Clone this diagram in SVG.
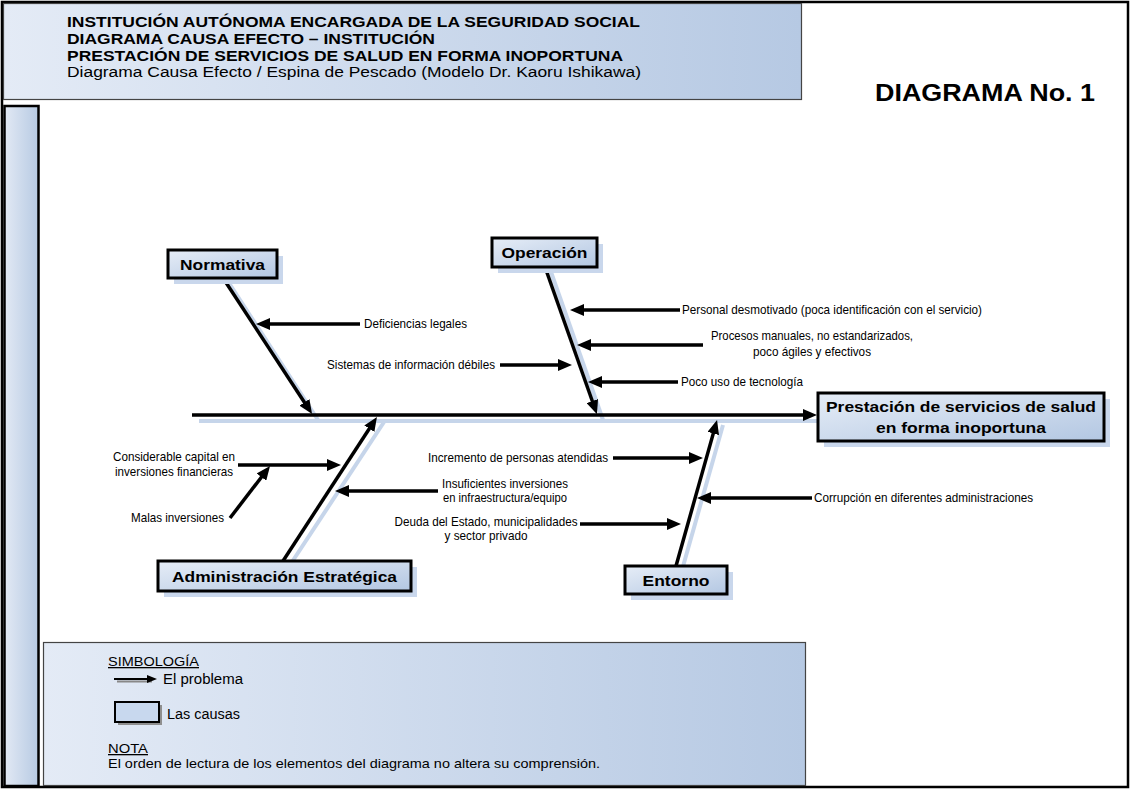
<svg xmlns="http://www.w3.org/2000/svg" width="1131" height="790" viewBox="0 0 1131 790">
<defs>
<linearGradient id="hg" x1="0" y1="0" x2="1" y2="0"><stop offset="0" stop-color="#e4ebf6"/><stop offset="1" stop-color="#b6c9e3"/></linearGradient>
<linearGradient id="bg" x1="0" y1="0" x2="1" y2="1"><stop offset="0" stop-color="#e6edf7"/><stop offset="1" stop-color="#b3c7e2"/></linearGradient>
<linearGradient id="vg" x1="0" y1="0" x2="1" y2="0"><stop offset="0" stop-color="#e2e9f4"/><stop offset="1" stop-color="#b7cae3"/></linearGradient>
<marker id="ah" viewBox="0 0 14 12" markerWidth="14" markerHeight="12" markerUnits="userSpaceOnUse" refX="2" refY="6" orient="auto"><path d="M0,0 L14,6 L0,12 z" fill="#000"/></marker>
<marker id="ahs" viewBox="0 0 10 8" markerWidth="10" markerHeight="8" markerUnits="userSpaceOnUse" refX="2" refY="4" orient="auto"><path d="M0,0 L10,4 L0,8 z" fill="#000"/></marker>
</defs>
<style>
.t{font-family:"Liberation Sans",Arial,sans-serif;fill:#000}
.b{font-weight:bold}
.lbl{font-family:"Liberation Sans",Arial,sans-serif;font-size:13px;fill:#000}
.box{fill:url(#bg);stroke:#000;stroke-width:3}
.sh{fill:#c9d7ec}
.bone{stroke:#000;stroke-width:3.5;fill:none;marker-end:url(#ah)}
.bsh{stroke:#c6d5ea;stroke-width:4;fill:none}
</style>
<rect x="0" y="0" width="1131" height="790" fill="#fff"/>
<rect x="2" y="2" width="1126" height="785" fill="#fff" stroke="#000" stroke-width="2.5"/>

<g id="header">
<rect x="3.5" y="3.5" width="798" height="96" fill="url(#hg)" stroke="#444" stroke-width="1.2"/>
<text class="t b" x="67" y="27" font-size="15.5" textLength="573" lengthAdjust="spacingAndGlyphs">INSTITUCIÓN AUTÓNOMA ENCARGADA DE LA SEGURIDAD SOCIAL</text>
<text class="t b" x="67" y="44" font-size="15.5" textLength="368" lengthAdjust="spacingAndGlyphs">DIAGRAMA CAUSA EFECTO – INSTITUCIÓN</text>
<text class="t b" x="67" y="61" font-size="15.5" textLength="556" lengthAdjust="spacingAndGlyphs">PRESTACIÓN DE SERVICIOS DE SALUD EN FORMA INOPORTUNA</text>
<text class="t" x="67" y="77" font-size="15.5" textLength="574" lengthAdjust="spacingAndGlyphs">Diagrama Causa Efecto / Espina de Pescado (Modelo Dr. Kaoru Ishikawa)</text>
</g>
<g id="title">
<text class="t b" x="875" y="101" font-size="23" textLength="220" lengthAdjust="spacingAndGlyphs">DIAGRAMA No. 1</text>
</g>
<g id="sidebar">
<rect x="4.5" y="106" width="34" height="680" fill="url(#vg)" stroke="#000" stroke-width="2.5"/>
</g>

<g id="shadows">
<line class="bsh" x1="199" y1="421" x2="822" y2="421"/>
<line class="bsh" x1="229" y1="283" x2="318" y2="420"/>
<line class="bsh" x1="551" y1="272" x2="603" y2="420"/>
<line class="bsh" x1="290" y1="565" x2="384" y2="422"/>
<line class="bsh" x1="682" y1="570" x2="723" y2="425"/>
</g>

<g id="connectors">
<line class="bone" x1="192" y1="415" x2="805" y2="415"/>
<line class="bone" x1="223" y1="278" x2="305.5" y2="404"/>
<line class="bone" x1="545" y1="267" x2="593" y2="403"/>
<line class="bone" x1="283" y1="561" x2="370.4" y2="427"/>
<line class="bone" x1="676" y1="566" x2="713.8" y2="431.6"/>
<line class="bone" x1="360" y1="324" x2="268" y2="324"/>
<line class="bone" x1="500" y1="365" x2="560" y2="365"/>
<line class="bone" x1="680" y1="310" x2="582" y2="310"/>
<line class="bone" x1="703" y1="345" x2="589" y2="345"/>
<line class="bone" x1="678" y1="382" x2="600" y2="382"/>
<line class="bone" x1="238" y1="465" x2="329" y2="465"/>
<line class="bone" x1="230" y1="518" x2="262.7" y2="475.5"/>
<line class="bone" x1="438" y1="491" x2="347" y2="491"/>
<line class="bone" x1="613" y1="458" x2="691" y2="458"/>
<line class="bone" x1="580" y1="524" x2="669" y2="524"/>
<line class="bone" x1="812" y1="498" x2="709" y2="498"/>
</g>

<g id="normativa">
<rect class="sh" x="174" y="256" width="109" height="28"/>
<rect class="box" x="168" y="250" width="109" height="28"/>
<text class="t b" x="222.5" y="270" font-size="15.5" text-anchor="middle" textLength="85" lengthAdjust="spacingAndGlyphs">Normativa</text>
</g>
<g id="operacion">
<rect class="sh" x="498" y="244" width="105" height="29"/>
<rect class="box" x="492" y="238" width="105" height="29"/>
<text class="t b" x="544.5" y="258" font-size="15.5" text-anchor="middle" textLength="86" lengthAdjust="spacingAndGlyphs">Operación</text>
</g>
<g id="administracion">
<rect class="sh" x="164" y="567" width="253" height="30"/>
<rect class="box" x="158" y="561" width="253" height="30"/>
<text class="t b" x="284.5" y="582" font-size="15.5" text-anchor="middle" textLength="225" lengthAdjust="spacingAndGlyphs">Administración Estratégica</text>
</g>
<g id="entorno">
<rect class="sh" x="631" y="572" width="102" height="28"/>
<rect class="box" x="625" y="566" width="102" height="28"/>
<text class="t b" x="676" y="586" font-size="15.5" text-anchor="middle" textLength="67" lengthAdjust="spacingAndGlyphs">Entorno</text>
</g>
<g id="efecto">
<rect class="sh" x="824" y="399" width="286" height="48"/>
<rect class="box" x="818" y="393" width="286" height="48"/>
<text class="t b" x="961" y="412" font-size="15.5" text-anchor="middle" textLength="270" lengthAdjust="spacingAndGlyphs">Prestación de servicios de salud</text>
<text class="t b" x="961" y="433" font-size="15.5" text-anchor="middle" textLength="170" lengthAdjust="spacingAndGlyphs">en forma inoportuna</text>
</g>

<g id="causas">
<text class="lbl" x="364" y="328" textLength="103" lengthAdjust="spacingAndGlyphs">Deficiencias legales</text>
<text class="lbl" x="327" y="369" textLength="168" lengthAdjust="spacingAndGlyphs">Sistemas de información débiles</text>
<text class="lbl" x="682" y="314" textLength="300" lengthAdjust="spacingAndGlyphs">Personal desmotivado (poca identificación con el servicio)</text>
<text class="lbl" x="812" y="340" text-anchor="middle" textLength="202" lengthAdjust="spacingAndGlyphs">Procesos manuales, no estandarizados,</text>
<text class="lbl" x="812" y="356" text-anchor="middle" textLength="118" lengthAdjust="spacingAndGlyphs">poco ágiles y efectivos</text>
<text class="lbl" x="681" y="386" textLength="122" lengthAdjust="spacingAndGlyphs">Poco uso de tecnología</text>
<text class="lbl" x="174" y="461" text-anchor="middle" textLength="122" lengthAdjust="spacingAndGlyphs">Considerable capital en</text>
<text class="lbl" x="174" y="476" text-anchor="middle" textLength="118" lengthAdjust="spacingAndGlyphs">inversiones financieras</text>
<text class="lbl" x="131" y="522" textLength="93" lengthAdjust="spacingAndGlyphs">Malas inversiones</text>
<text class="lbl" x="505" y="488" text-anchor="middle" textLength="126" lengthAdjust="spacingAndGlyphs">Insuficientes inversiones</text>
<text class="lbl" x="505" y="502" text-anchor="middle" textLength="124" lengthAdjust="spacingAndGlyphs">en infraestructura/equipo</text>
<text class="lbl" x="428" y="462" textLength="180" lengthAdjust="spacingAndGlyphs">Incremento de personas atendidas</text>
<text class="lbl" x="486" y="526" text-anchor="middle" textLength="183" lengthAdjust="spacingAndGlyphs">Deuda del Estado, municipalidades</text>
<text class="lbl" x="486" y="540" text-anchor="middle" textLength="83" lengthAdjust="spacingAndGlyphs">y sector privado</text>
<text class="lbl" x="814" y="502" textLength="219" lengthAdjust="spacingAndGlyphs">Corrupción en diferentes administraciones</text>
</g>

<g id="leyenda">
<rect x="43.5" y="642.5" width="762" height="143" fill="url(#hg)" stroke="#444" stroke-width="1.2"/>
<text class="t" x="108" y="666" font-size="13" text-decoration="underline" textLength="91" lengthAdjust="spacingAndGlyphs">SIMBOLOGÍA</text>
<line x1="117" y1="681.5" x2="152" y2="681.5" stroke="#888" stroke-width="2"/>
<line x1="114" y1="679" x2="149" y2="679" stroke="#000" stroke-width="2" marker-end="url(#ahs)"/>
<text class="t" x="163" y="684" font-size="14" textLength="80" lengthAdjust="spacingAndGlyphs">El problema</text>
<rect x="118" y="705" width="44" height="20" fill="#8f8f8f"/>
<rect x="115" y="702" width="44" height="20" fill="#c8d8ee" stroke="#000" stroke-width="2"/>
<text class="t" x="167" y="719" font-size="14" textLength="73" lengthAdjust="spacingAndGlyphs">Las causas</text>
<text class="t" x="108" y="753" font-size="13" text-decoration="underline" textLength="40" lengthAdjust="spacingAndGlyphs">NOTA</text>
<text class="t" x="108" y="768" font-size="13.5" textLength="492" lengthAdjust="spacingAndGlyphs">El orden de lectura de los elementos del diagrama no altera su comprensión.</text>
</g>
</svg>
